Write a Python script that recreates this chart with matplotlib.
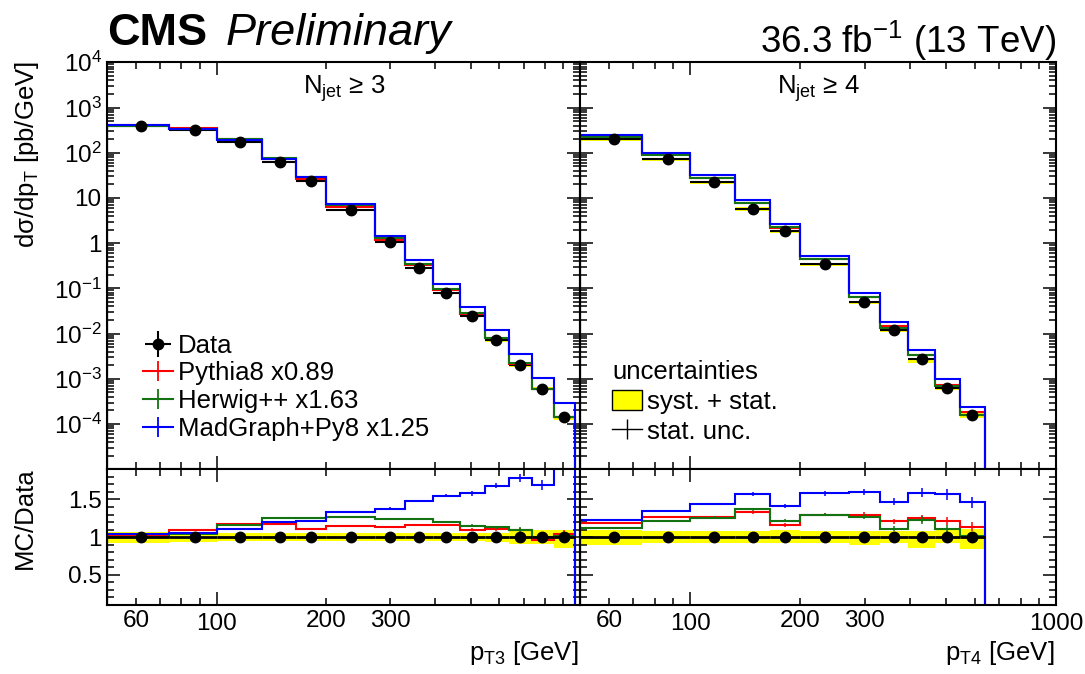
import numpy as np
import matplotlib

matplotlib.use("Agg")
import matplotlib.pyplot as plt
from matplotlib.lines import Line2D
from matplotlib.patches import Patch
from matplotlib.ticker import FixedLocator, FuncFormatter, MultipleLocator, NullFormatter

plt.rcParams["font.family"] = ["Liberation Sans", "DejaVu Sans"]
plt.rcParams["mathtext.fontset"] = "custom"
plt.rcParams["mathtext.rm"] = "Liberation Sans"
plt.rcParams["mathtext.it"] = "Liberation Sans:italic"
plt.rcParams["mathtext.bf"] = "Liberation Sans:bold"

# ---------------------------------------------------------------------------
# Values
# ---------------------------------------------------------------------------

# N_jet >= 3, third-jet pT
edges3 = [50, 74, 100, 133, 165, 200, 272, 330, 395, 468, 548, 638, 737, 846, 967]
x3 = [62, 87, 116, 149, 182, 235, 300, 361, 429, 505, 589, 684, 785, 902]
data3 = [400, 316, 175, 62, 23.7, 5.5, 1.05, 0.286, 0.080, 0.0245, 0.0071,
         0.0020, 6.1e-4, 1.4e-4]
stat3 = [0.002, 0.002, 0.002, 0.002, 0.002, 0.003, 0.004, 0.005, 0.007, 0.01,
         0.015, 0.02, 0.04, 0.06]
syst3_lo = [0.08, 0.06, 0.05, 0.05, 0.05, 0.05, 0.05, 0.05, 0.05, 0.05, 0.06,
            0.09, 0.09, 0.14]
syst3_hi = [0.07, 0.05, 0.05, 0.05, 0.05, 0.05, 0.05, 0.05, 0.05, 0.05, 0.05,
            0.09, 0.09, 0.10]
pythia3 = [1.02, 1.10, 1.17, 1.17, 1.11, 1.15, 1.14, 1.16, 1.16, 1.10, 1.11,
           1.09, 0.96, 1.04]
herwig3 = [1.00, 1.04, 1.16, 1.25, 1.25, 1.27, 1.24, 1.24, 1.20, 1.15, 1.13,
           1.10, 1.00, 1.02]
madgraph3 = [1.04, 1.05, 1.11, 1.20, 1.22, 1.33, 1.38, 1.48, 1.55, 1.58, 1.68,
             1.79, 1.69, 2.10]
mcstat3 = [0.003, 0.003, 0.004, 0.005, 0.006, 0.007, 0.01, 0.012, 0.015,
           0.018, 0.02, 0.03, 0.04, 0.05]

# N_jet >= 4, fourth-jet pT
edges4 = [50, 74, 100, 133, 165, 200, 272, 330, 395, 468, 548, 638]
x4 = [62, 87, 116, 149, 182, 234, 299, 360, 429, 505, 591]
data4 = [200, 72.6, 22.1, 5.7, 1.84, 0.338, 0.050, 0.012, 0.0027, 6.2e-4, 1.6e-4]
stat4 = [0.003, 0.003, 0.004, 0.005, 0.006, 0.008, 0.01, 0.015, 0.02, 0.04, 0.06]
syst4_lo = [0.10, 0.08, 0.08, 0.08, 0.08, 0.08, 0.10, 0.08, 0.15, 0.08, 0.16]
syst4_hi = [0.09, 0.08, 0.08, 0.08, 0.09, 0.08, 0.08, 0.08, 0.08, 0.09, 0.11]
pythia4 = [1.19, 1.27, 1.27, 1.33, 1.16, 1.30, 1.30, 1.21, 1.25, 1.21, 1.14]
herwig4 = [1.12, 1.21, 1.26, 1.37, 1.22, 1.30, 1.27, 1.11, 1.23, 1.11, 1.01]
madgraph4 = [1.23, 1.35, 1.44, 1.57, 1.41, 1.58, 1.60, 1.47, 1.59, 1.57, 1.46]
mcstat4 = [0.01, 0.01, 0.012, 0.015, 0.02, 0.02, 0.025, 0.03, 0.04, 0.045, 0.05]

mc_labels = ["Pythia8 x0.89", "Herwig++ x1.63", "MadGraph+Py8 x1.25"]
mc_colors = ["#ff0000", "#137313", "#0000ff"]
YELLOW = "#ffff00"

FS = 17.5      # tick labels
LFS = 18.5     # legends and panel labels


# ---------------------------------------------------------------------------
# Helpers
# ---------------------------------------------------------------------------

def _log_label(v, pos):
    e = int(round(np.log10(v)))
    if e == 0:
        return "1"
    if e == 1:
        return "10"
    return r"10$^{%d}$" % e


def _style(ax):
    ax.set_xscale("log")
    ax.set_xlim(50, 1000)
    ax.tick_params(which="both", direction="in", top=True, right=True,
                   width=1.1, labelsize=FS)
    ax.tick_params(which="major", length=9.5)
    ax.tick_params(which="minor", length=5)
    ax.tick_params(axis="x", pad=6)
    ax.tick_params(axis="y", pad=4)
    for s in ax.spines.values():
        s.set_linewidth(1.5)
        s.set_zorder(6)
    ax.xaxis.set_major_locator(FixedLocator([100, 1000]))
    ax.xaxis.set_minor_locator(FixedLocator(
        [60, 70, 80, 90, 200, 300, 400, 500, 600, 700, 800, 900]))


def draw_panel(ax_top, ax_rat, edges, xc, data, stat, syst_lo, syst_hi,
               ratios, mcstat):
    edges = np.asarray(edges, float)
    xc = np.asarray(xc, float)
    data = np.asarray(data, float)
    stat = np.asarray(stat, float)
    lo = np.asarray(syst_lo, float)
    hi = np.asarray(syst_hi, float)
    mcstat = np.asarray(mcstat, float)
    xerr = [xc - edges[:-1], edges[1:] - xc]

    # ---- spectrum ----
    ax_top.stairs(data * (1 + hi), edges, baseline=data * (1 - lo), fill=True,
                  color=YELLOW, lw=0, zorder=1)
    ax_top.errorbar(xc, data, xerr=xerr, fmt="none", ecolor="k",
                    elinewidth=1.5, zorder=2)
    for r, color in zip(ratios, mc_colors):
        ax_top.stairs(data * np.asarray(r), edges, baseline=1e-12,
                      color=color, lw=1.5, zorder=3)
    ax_top.errorbar(xc, data, yerr=data * stat, fmt="o", color="k", ms=7.5,
                    elinewidth=1.5, capsize=0, zorder=4)

    # ---- ratio ----
    ones = np.ones_like(data)
    ax_rat.stairs(1 + hi, edges, baseline=1 - lo, fill=True, color=YELLOW,
                  lw=0, zorder=1)
    for r, color in zip(ratios, mc_colors):
        r = np.asarray(r, float)
        ax_rat.stairs(r, edges, baseline=-10, color=color, lw=1.5, zorder=3)
        ax_rat.errorbar(xc, r, yerr=r * mcstat, fmt="none", ecolor=color,
                        elinewidth=1.1, zorder=3)
    ax_rat.errorbar(xc, ones, xerr=xerr, yerr=stat, fmt="o", color="k",
                    ms=7.5, elinewidth=2, capsize=0, zorder=4)

    _style(ax_top)
    _style(ax_rat)
    ax_top.set_yscale("log")
    ax_top.set_ylim(1e-5, 1e4)
    ax_top.yaxis.set_major_locator(FixedLocator(10.0 ** np.arange(-4, 5)))
    ax_top.yaxis.set_minor_locator(FixedLocator(
        [m * 10.0 ** e for e in range(-5, 4) for m in range(2, 10)]))
    ax_top.yaxis.set_major_formatter(FuncFormatter(_log_label))
    ax_top.yaxis.set_minor_formatter(NullFormatter())
    ax_top.tick_params(labelbottom=False)

    ax_rat.set_ylim(0.1, 1.9)
    ax_rat.yaxis.set_major_locator(FixedLocator([0.5, 1.0, 1.5]))
    ax_rat.yaxis.set_minor_locator(MultipleLocator(0.1))
    ax_rat.yaxis.set_major_formatter(FuncFormatter(lambda v, p: f"{v:g}"))
    ax_rat.xaxis.set_minor_formatter(FuncFormatter(
        lambda v, p: f"{v:g}" if v in (60, 200, 300) else ""))


# ---------------------------------------------------------------------------
# Figure
# ---------------------------------------------------------------------------

W, H = 1085, 674
fig = plt.figure(figsize=(W / 100, H / 100), dpi=100)


def _box(x0, y0, x1, y1):
    return [x0 / W, 1 - y1 / H, (x1 - x0) / W, (y1 - y0) / H]


ax_t3 = fig.add_axes(_box(107.3, 62.3, 580, 469.3))
ax_r3 = fig.add_axes(_box(107.3, 469.3, 580, 605))
ax_t4 = fig.add_axes(_box(580, 62.3, 1056, 469.3))
ax_r4 = fig.add_axes(_box(580, 469.3, 1056, 605))

draw_panel(ax_t3, ax_r3, edges3, x3, data3, stat3, syst3_lo, syst3_hi,
           [pythia3, herwig3, madgraph3], mcstat3)
draw_panel(ax_t4, ax_r4, edges4, x4, data4, stat4, syst4_lo, syst4_hi,
           [pythia4, herwig4, madgraph4], mcstat4)

ax_r3.xaxis.set_major_formatter(FuncFormatter(
    lambda v, p: f"{v:g}" if v < 999 else ""))
ax_r4.xaxis.set_major_formatter(FuncFormatter(lambda v, p: f"{v:g}"))
for ax in (ax_t4, ax_r4):
    ax.tick_params(labelleft=False)

ax_t3.text(0.5, 0.935, r"N$_{\mathrm{jet}}$ ≥ 3", transform=ax_t3.transAxes,
           ha="center", va="center", fontsize=LFS)
ax_t4.text(0.5, 0.935, r"N$_{\mathrm{jet}}$ ≥ 4", transform=ax_t4.transAxes,
           ha="center", va="center", fontsize=LFS)

# legends
data_handle = ax_t3.errorbar([], [], xerr=[[]], yerr=[[]], fmt="o", color="k",
                             ms=7.5, elinewidth=1.5)
mc_handles = [Line2D([], [], color=c, lw=1.5, marker="|", ms=14, mew=1.3)
              for c in mc_colors]
ax_t3.legend([data_handle] + mc_handles, ["Data"] + mc_labels,
             loc="upper left", bbox_to_anchor=(0.0755, 0.333), frameon=False,
             fontsize=LFS, handlelength=1.15, handletextpad=0.2,
             labelspacing=0.14, borderpad=0, borderaxespad=0)

unc_handles = [Patch(facecolor=YELLOW, edgecolor="k", lw=1.0),
               Line2D([], [], color="k", lw=1.0, marker="|", ms=14, mew=1.0)]
ax_t4.legend(unc_handles, ["syst. + stat.", "stat. unc."],
             title="uncertainties", title_fontsize=LFS,
             alignment="left", loc="upper left",
             bbox_to_anchor=(0.068, 0.268), frameon=False, fontsize=LFS,
             handlelength=1.15, handleheight=0.8, handletextpad=0.2,
             labelspacing=0.22, borderpad=0, borderaxespad=0)

# axis titles
fig.text(27 / W, 1 - 61 / H, r"dσ/dp$_{\mathrm{T}}$ [pb/GeV]",
         rotation=90, ha="center", va="top", fontsize=18.5)
fig.text(25 / W, 1 - 518 / H, "MC/Data", rotation=90, ha="center",
         va="center", fontsize=18.5)
fig.text(579 / W, 1 - 660 / H, r"p$_{\mathrm{T3}}$ [GeV]", ha="right",
         va="baseline", fontsize=18.5)
fig.text(1055 / W, 1 - 660 / H, r"p$_{\mathrm{T4}}$ [GeV]", ha="right",
         va="baseline", fontsize=18.5)

# header
fig.text(107 / W, 1 - 45 / H, "CMS", fontsize=32.5, fontweight="bold",
         ha="left", va="baseline")
fig.text(226 / W, 1 - 45 / H, "Preliminary", fontsize=32.5, fontstyle="italic",
         ha="left", va="baseline")
fig.text(1056 / W, 1 - 53 / H, r"36.3 fb$^{-1}$ (13 TeV)", fontsize=26.5,
         ha="right", va="baseline")

fig.savefig("out.png", dpi=100)
